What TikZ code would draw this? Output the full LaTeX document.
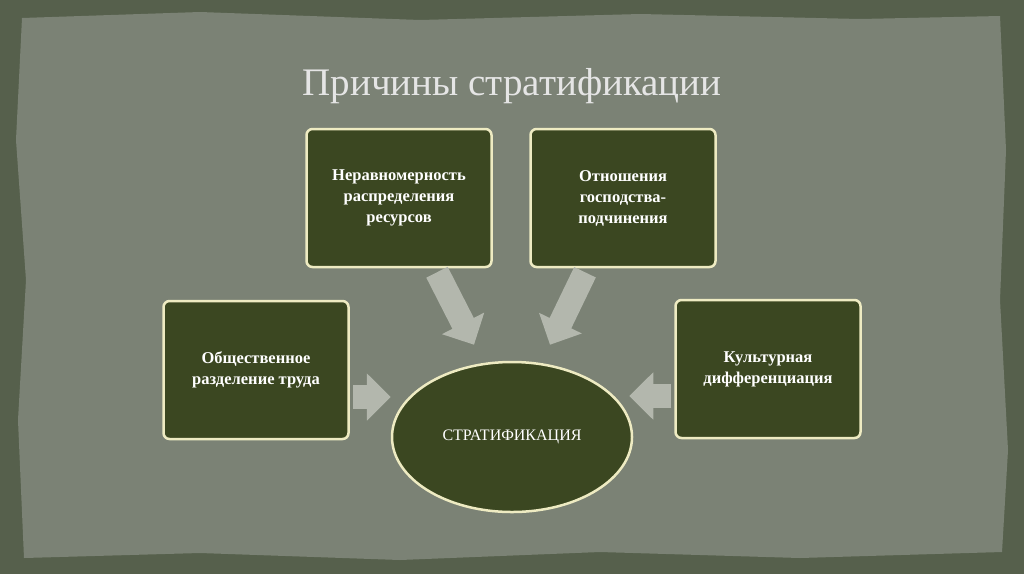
\documentclass[tikz,border=0pt]{standalone}
\usepackage{fontspec}
\setmainfont{Liberation Serif}
\usetikzlibrary{arrows.meta,positioning,shapes.geometric,calc}
\definecolor{outerbg}{HTML}{56604C}
\definecolor{paper}{HTML}{7B8275}
\definecolor{boxfill}{HTML}{3B4721}
\definecolor{boxline}{HTML}{EEEBC2}
\definecolor{arrowgray}{HTML}{B3B7AD}
\tikzset{
  causebox/.style={draw=boxline, line width=2.5pt, fill=boxfill, rounded corners=6pt,
    minimum width=185pt, minimum height=138pt, text=white, align=center,
    font=\bfseries\fontsize{16.5}{21}\selectfont},
  blockarrow/.style={draw=arrowgray, line width=24pt,
    -{Triangle[width=46pt,length=24pt]}}
}
\begin{document}
\begin{tikzpicture}[x=1pt,y=-1pt]
\useasboundingbox (0,0) rectangle (1024,574);
\fill[outerbg] (0,0) rectangle (1024,574);
% torn paper
\fill[paper] (22,18) -- (200,12) -- (420,20) -- (640,14) -- (860,19) -- (1000,16)
  -- (1006,150) -- (1000,300) -- (1008,450) -- (1002,552) -- (800,558) -- (600,552)
  -- (400,560) -- (200,553) -- (24,558) -- (18,420) -- (26,280) -- (16,140) -- cycle;
\node[text=white!80!gray, font=\fontsize{39}{44}\selectfont] (title) at (512,86) {Причины стратификации};
\node[causebox] (res) at (399,198) {Неравномерность\\распределения\\ресурсов};
\node[causebox] (dom) at (623,198) {Отношения\\господства-\\подчинения};
\node[causebox] (lab) at (256,370) {Общественное\\разделение труда};
\node[causebox] (cul) at (768,369) {Культурная\\дифференциация};
\node[ellipse, draw=boxline, line width=2.5pt, fill=boxfill, minimum width=240pt,
  minimum height=150pt, text=white, font=\fontsize{16}{20}\selectfont] (strat) at (512,437) {СТРАТИФИКАЦИЯ};
\draw[blockarrow] ($(res.south)+(38,4)$) -- ($(strat.north)+(-38,-16)$);
\draw[blockarrow] ($(dom.south)+(-38,4)$) -- ($(strat.north)+(38,-16)$);
\coordinate (lw) at ($(lab.east)+(3,27)$);
\coordinate (cw) at ($(cul.west)+(-3,27)$);
\draw[blockarrow] (lw) -- ($(strat.west |- lw)+(0,0)$);
\draw[blockarrow] (cw) -- ($(strat.east |- cw)+(-4,0)$);
\end{tikzpicture}
\end{document}
